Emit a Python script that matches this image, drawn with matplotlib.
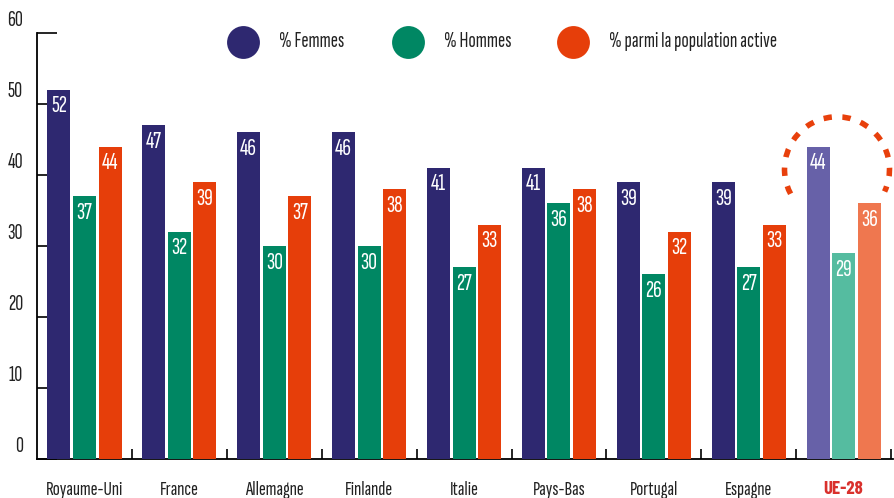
import matplotlib
matplotlib.use('Agg')
import matplotlib.pyplot as plt
import matplotlib.transforms as mtransforms
from matplotlib.patches import Arc
import numpy as np

plt.rcParams['font.family'] = ['Sofia Sans Extra Condensed', 'Barlow Condensed', 'DejaVu Sans']

pays = ['Royaume-Uni', 'France', 'Allemagne', 'Finlande', 'Italie',
        'Pays-Bas', 'Portugal', 'Espagne', 'UE-28']
femmes = [52, 47, 46, 46, 41, 41, 39, 39, 44]
hommes = [37, 32, 30, 30, 27, 36, 26, 27, 29]
population = [44, 39, 37, 38, 33, 38, 32, 33, 36]
series_names = ['% Femmes', '% Hommes', '% parmi la population active']

cols = ['#2e2870', '#008763', '#e63e0a']
cols_ue = ['#6761a8', '#55bca0', '#ef774f']
txt_col = '#222222'
ue_col = '#d9302c'

fig = plt.figure(figsize=(8.94, 4.98), dpi=100)
ax = fig.add_axes([37 / 894, 1 - 459 / 498, 856 / 894, 426 / 498])

x = np.arange(len(pays))
offsets = [-0.27, 0.0, 0.27]
width = 0.242
for k, vals in enumerate([femmes, hommes, population]):
    colors = [cols[k]] * (len(pays) - 1) + [cols_ue[k]]
    bars = ax.bar(x + offsets[k], vals, width, color=colors, zorder=3)
    for b, v in zip(bars, vals):
        ax.annotate(str(v), (b.get_x() + b.get_width() / 2, v), xytext=(0, -4),
                    textcoords='offset points', ha='center', va='top',
                    color='white', fontsize=17.5, fontweight='light', zorder=4)

ax.set_xlim(-0.5, 8.52)
ax.set_ylim(0, 60)

for s in ['top', 'right']:
    ax.spines[s].set_visible(False)
ax.spines['left'].set_linewidth(1.3)
ax.spines['bottom'].set_linewidth(1.3)

ax.set_yticks(range(0, 61, 10))
ax.tick_params(axis='y', direction='in', length=14.4, width=1.2, pad=10,
               labelsize=16, labelcolor=txt_col)
off = mtransforms.ScaledTranslation(0, 2 / 72, fig.dpi_scale_trans)
for lab in ax.get_yticklabels():
    lab.set_verticalalignment('bottom')
    lab.set_fontweight('light')
    lab.set_transform(lab.get_transform() + off)

ax.set_xticks(x)
ax.set_xticklabels(pays)
ax.set_xticks(np.arange(0.5, 9, 1), minor=True)
ax.tick_params(axis='x', which='major', length=0, pad=16, labelsize=15,
               labelcolor=txt_col)
ax.tick_params(axis='x', which='minor', direction='in', length=7.5, width=1.2)
for lab in ax.get_xticklabels():
    lab.set_fontweight('light')
ue_lab = ax.get_xticklabels()[-1]
ue_lab.set_color(ue_col)
ue_lab.set_family(['Barlow Condensed', 'DejaVu Sans'])
ue_lab.set_fontweight('bold')
ue_lab.set_fontsize(13.5)

# legend
leg_x = [0.2407, 0.4334, 0.626]
for lx, c, name in zip(leg_x, cols, series_names):
    ax.scatter([lx], [0.979], s=560, color=c, transform=ax.transAxes,
               clip_on=False, zorder=5, linewidths=0)
    ax.text(lx + 0.042, 0.979, name, transform=ax.transAxes, ha='left',
            va='center', fontsize=15.5, fontweight='light', color=txt_col)

# dashed circle round UE-28, drawn in inches around a data point
arc_tr = fig.dpi_scale_trans + mtransforms.ScaledTranslation(7.93, 40.8, ax.transData)
arc = Arc((0, 0), 1.05, 1.05, theta1=-25, theta2=214, transform=arc_tr,
          color='#e8400c', lw=4.0, linestyle=(0.5, (1.5, 1.9)),
          clip_on=False, zorder=2)
ax.add_patch(arc)

fig.savefig('out.png', dpi=100)
